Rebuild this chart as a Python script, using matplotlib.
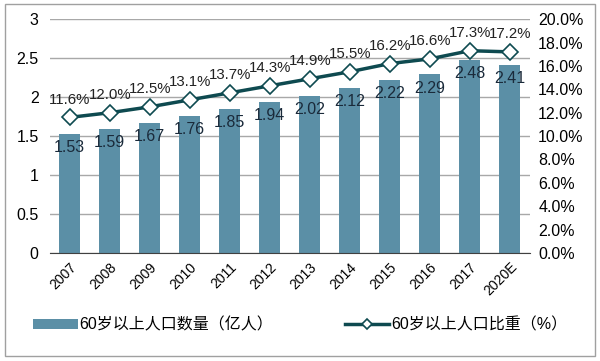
import numpy as np
import matplotlib.pyplot as plt
from matplotlib.patches import Rectangle
from matplotlib.ticker import MultipleLocator, FuncFormatter

plt.rcParams['font.family'] = ['Liberation Sans', 'Noto Sans CJK SC', 'DejaVu Sans']

years = ['2007', '2008', '2009', '2010', '2011', '2012', '2013', '2014',
         '2015', '2016', '2017', '2020E']
pop = [1.53, 1.59, 1.67, 1.76, 1.85, 1.94, 2.02, 2.12, 2.22, 2.29, 2.48, 2.41]
share = [11.6, 12.0, 12.5, 13.1, 13.7, 14.3, 14.9, 15.5, 16.2, 16.6, 17.3, 17.2]

bar_col = '#5b8fa6'
line_col = '#0e4a50'

fig = plt.figure(figsize=(6, 3.61), dpi=100)
fig.patches.append(Rectangle((0.008, 0.015), 0.984, 0.975, transform=fig.transFigure,
                             fill=False, edgecolor='#a0a0a0', linewidth=1.0))

ax = fig.add_axes([0.083, 0.299, 0.8, 0.648])
x = np.arange(len(years))
ax.bar(x, pop, width=0.52, color=bar_col, zorder=2, label='60岁以上人口数量（亿人）')
ax.set_ylim(0, 3)
ax.set_xlim(-0.5, len(years) - 0.5)
ax.yaxis.set_major_locator(MultipleLocator(0.5))
ax.yaxis.set_major_formatter(FuncFormatter(lambda v, p: f'{v:g}'))
ax.grid(axis='y', color='#a8a8a8', linewidth=1.0, zorder=0)
for s in ['top', 'right', 'left']:
    ax.spines[s].set_visible(False)
ax.spines['bottom'].set_color('#404040')
ax.tick_params(axis='both', length=0, labelsize=11.5, pad=8)
ax.set_xticks(x)
ax.set_xticklabels(years, rotation=45, ha='right', rotation_mode='anchor', fontsize=10)
ax.tick_params(axis='x', pad=5)

for xi, v in zip(x, pop):
    ax.text(xi, v - 0.08, f'{v:.2f}', ha='center', va='top', fontsize=11.5,
            color='#1a2a3a', zorder=4)

ax2 = ax.twinx()
ax2.plot(x, share, color=line_col, linewidth=2.5, marker='D', markersize=8,
         markerfacecolor='white', markeredgecolor=line_col, markeredgewidth=1.2,
         zorder=5, label='60岁以上人口比重（%）')
ax2.set_ylim(0, 20)
ax2.yaxis.set_major_locator(MultipleLocator(2))
ax2.yaxis.set_major_formatter(FuncFormatter(lambda v, p: f'{v:.1f}%'))
for s in ['top', 'right', 'left', 'bottom']:
    ax2.spines[s].set_visible(False)
ax2.tick_params(axis='y', length=0, labelsize=11.5, pad=6)

for xi, v in zip(x, share):
    ax2.text(xi, v + 0.9, f'{v:.1f}%', ha='center', va='bottom', fontsize=10.8,
             color='#222222', zorder=6)

h1, l1 = ax.get_legend_handles_labels()
h2, l2 = ax2.get_legend_handles_labels()
fig.legend(h1 + h2, l1 + l2, loc='center', bbox_to_anchor=(0.5, 0.1), ncol=2,
           frameon=False, fontsize=11.5, handlelength=2.8, columnspacing=4.5,
           handletextpad=0.1, markerscale=0.6, handleheight=0.6)

fig.savefig('out.png', dpi=100)
